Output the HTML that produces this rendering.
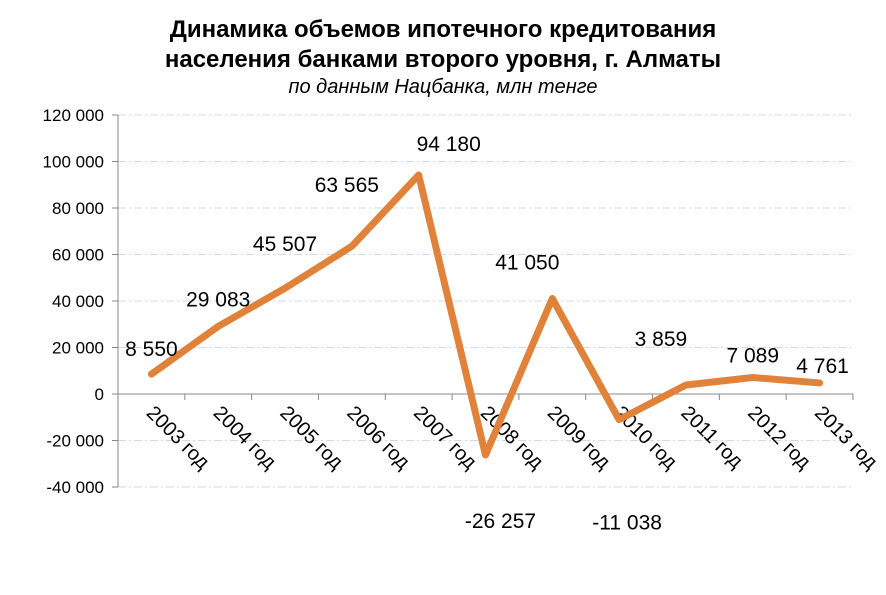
<!DOCTYPE html>
<html><head><meta charset="utf-8">
<style>
html,body{margin:0;padding:0;background:#fff;}
body{width:886px;height:590px;overflow:hidden;font-family:"Liberation Sans",Arial,sans-serif;}
</style></head>
<body>
<svg id="chart" width="886" height="590" xmlns="http://www.w3.org/2000/svg" font-family="Liberation Sans, Arial, sans-serif">
<text x="443" y="37" text-anchor="middle" font-size="24" font-weight="bold" fill="#000">Динамика объемов ипотечного кредитования</text>
<text x="443" y="67" text-anchor="middle" font-size="24" font-weight="bold" fill="#000">населения банками второго уровня, г. Алматы</text>
<text x="443" y="93" text-anchor="middle" font-size="20" font-style="italic" fill="#000">по данным Нацбанка, млн тенге</text>
<g id="grid"></g>
<g id="axes"></g>
<g id="series"></g>
<g id="labels"></g>
</svg>
<script>
const categories = ["2003 год","2004 год","2005 год","2006 год","2007 год","2008 год","2009 год","2010 год","2011 год","2012 год","2013 год"];
const values = [8550,29083,45507,63565,94180,-26257,41050,-11038,3859,7089,4761];
const valueLabels = ["8 550","29 083","45 507","63 565","94 180","-26 257","41 050","-11 038","3 859","7 089","4 761"];
const yTicks = [120000,100000,80000,60000,40000,20000,0,-20000,-40000];
const yTickLabels = ["120 000","100 000","80 000","60 000","40 000","20 000","0","-20 000","-40 000"];

const NS="http://www.w3.org/2000/svg";
const X0=118, X1=853, Y_TOP=115, Y_BOT=487, VMAX=120000, VMIN=-40000;
const step=(X1-X0)/categories.length;
function xScale(i){return X0+step*(i+0.5);}
function yScale(v){return Y_TOP+(VMAX-v)/(VMAX-VMIN)*(Y_BOT-Y_TOP);}
function mk(tag,attrs,parent){const e=document.createElementNS(NS,tag);for(const k in attrs)e.setAttribute(k,attrs[k]);parent.appendChild(e);return e;}
const grid=document.getElementById('grid'),axes=document.getElementById('axes'),series=document.getElementById('series'),labels=document.getElementById('labels');

yTicks.forEach((t,i)=>{
  const y=yScale(t);
  if(t!==0){
    const g=mk('line',{x1:X0,x2:X1,y1:y,y2:y,stroke:'#c9daee','stroke-width':1,'stroke-dasharray':'8 3 2 3'},grid);
    
    
  }
  const tk=mk('line',{x1:X0-6,x2:X0,y1:y,y2:y,stroke:'#888','stroke-width':1},axes);
  
  
  const tl=mk('text',{x:X0-14,y:y+6,'text-anchor':'end','font-size':17,fill:'#000'},axes);
  tl.textContent=yTickLabels[i];
  
  
});
const ya=mk('line',{x1:X0,x2:X0,y1:Y_TOP,y2:Y_BOT,stroke:'#888','stroke-width':1},axes);


const y0=yScale(0);
const xa=mk('line',{x1:X0,x2:X1,y1:y0,y2:y0,stroke:'#888','stroke-width':1},axes);


for(let i=1;i<=categories.length;i++){
  const x=X0+step*i;
  const t=mk('line',{x1:x,x2:x,y1:y0,y2:y0+6,stroke:'#888','stroke-width':1},axes);
  
  
}
categories.forEach((c,i)=>{
  const x=xScale(i)-6, y=y0+20;
  const t=mk('text',{x:x,y:y,'font-size':20,fill:'#000',transform:`rotate(45 ${x} ${y})`},axes);
  t.textContent=c;
  
  
});
const pts=values.map((v,i)=>xScale(i)+','+yScale(v)).join(' ');
const pl=mk('polyline',{points:pts,fill:'none',stroke:'#e0823a','stroke-width':7,'stroke-linejoin':'round','stroke-linecap':'round'},series);


// label offsets (layout only)
const ldx=[0,0,0,-5,30,15,-25,8,-25,0,3];
const ldy=[-18,-20,-37,-54,-24,73,-29,110,-39,-15,-10];
values.forEach((v,i)=>{
  const t=mk('text',{x:xScale(i)+ldx[i],y:yScale(v)+ldy[i],'text-anchor':'middle','font-size':21,fill:'#000'},labels);
  t.textContent=valueLabels[i];
  
  
});
</script>
</body></html>
